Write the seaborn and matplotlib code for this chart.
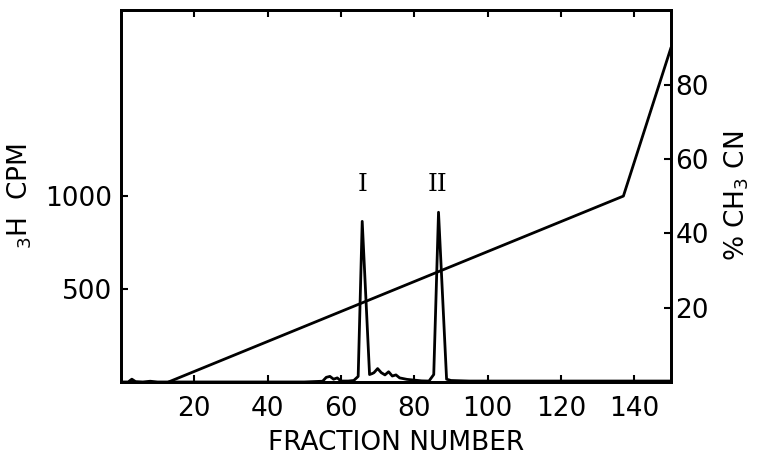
import matplotlib
matplotlib.use("Agg")
import matplotlib.pyplot as plt
import seaborn as sns

# 3H counts per fraction
fraction = [0, 2, 3, 4, 6, 8, 10, 20, 30, 40, 50, 55, 56, 57, 58, 59, 60,
            62, 63.5, 64.7, 65.8, 67.8, 68.5, 69, 70, 71, 72, 73, 74, 75,
            76, 77, 78, 80, 82, 84, 85.3, 86.6, 88.8, 90, 95, 100, 110,
            120, 130, 140, 150]
cpm = [0, 0, 15, 2, 0, 4, 0, 0, 0, 0, 0, 4, 25, 30, 15, 22, 5,
       5, 8, 30, 864, 40, 45, 50, 72, 50, 38, 55, 32, 38,
       22, 18, 14, 10, 6, 5, 40, 913, 15, 8, 5, 5, 5,
       5, 5, 5, 5]

# acetonitrile gradient
grad_fraction = [13, 137, 150]
grad_pct = [0, 50, 90]

x_ticks = [20, 40, 60, 80, 100, 120, 140]
cpm_ticks = [500, 1000]
pct_ticks = [20, 40, 60, 80]

sns.set_style("ticks", {"axes.edgecolor": "black", "text.color": "black",
                        "xtick.color": "black", "ytick.color": "black",
                        "axes.labelcolor": "black"})
plt.rcParams["font.family"] = ["DejaVu Sans"]
plt.rcParams["axes.linewidth"] = 2.0
plt.rcParams["mathtext.fontset"] = "dejavusans"

fig = plt.figure(figsize=(7.6, 4.63), dpi=100)
ax = fig.add_axes([0.159, 0.175, 0.724, 0.803])
ax2 = ax.twinx()

sns.lineplot(x=fraction, y=cpm, ax=ax, color="black", linewidth=2.0)
sns.lineplot(x=grad_fraction, y=grad_pct, ax=ax2, color="black", linewidth=2.0)

ax.set_xlim(0, 150)
ax.set_ylim(0, 2000)
ax2.set_ylim(0, 100)

ax.set_xticks(x_ticks)
ax.set_yticks(cpm_ticks)
ax2.set_yticks(pct_ticks)

ax.tick_params(axis="both", direction="in", length=5, width=1.5,
               labelsize=19, top=True, pad=6, colors="black")
ax.tick_params(axis="x", pad=10)
ax2.tick_params(axis="y", direction="in", length=5, width=1.5,
                labelsize=19, pad=3, colors="black")
for a in (ax, ax2):
    for s in a.spines.values():
        s.set_visible(True)
        s.set_linewidth(2.0)
        s.set_color("black")

ax.set_xlabel("FRACTION NUMBER", fontsize=19, labelpad=6, color="black")
ax.set_ylabel("$_3$H  CPM", fontsize=19, labelpad=8, color="black")
ax2.set_ylabel("% CH$_3$ CN", fontsize=19, labelpad=10, color="black")

ax.text(65.8, 1000, "I", family="DejaVu Serif", fontsize=18,
        ha="center", va="bottom", color="black")
ax.text(86.4, 1000, "II", family="DejaVu Serif", fontsize=18,
        ha="center", va="bottom", color="black")

fig.savefig("out.png", dpi=100)
